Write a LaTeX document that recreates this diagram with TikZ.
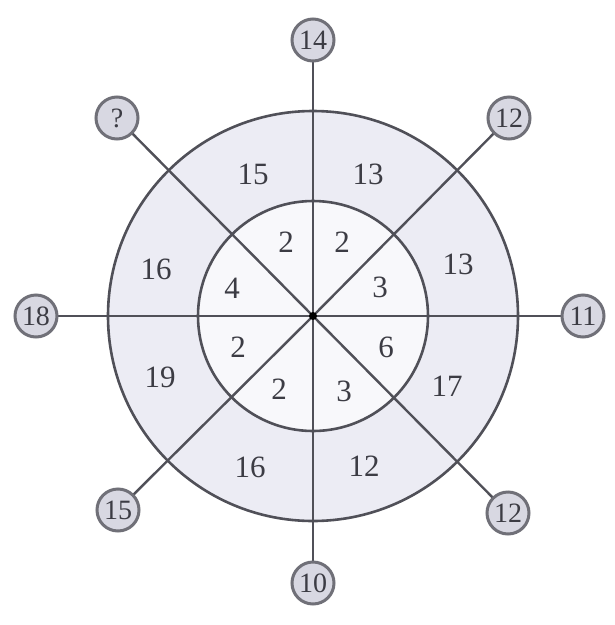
\documentclass[tikz,border=0pt]{standalone}
\usepackage{fontspec}
\setmainfont{Liberation Serif}
\definecolor{ringfill}{HTML}{ECECF4}
\definecolor{innerfill}{HTML}{F8F8FB}
\definecolor{linegray}{HTML}{505058}
\definecolor{badgefill}{HTML}{D8D8E2}
\definecolor{badgeline}{HTML}{707078}
\definecolor{numcol}{HTML}{3C3C44}
\tikzset{
  spoke/.style={draw=linegray, line width=2.4pt},
  ringline/.style={draw=linegray, line width=2.6pt},
  badge/.style={circle, draw=badgeline, line width=3pt, fill=badgefill, minimum size=42pt, inner sep=0pt, text=numcol, font=\fontsize{28}{28}\selectfont},
  num/.style={text=numcol, font=\fontsize{31}{31}\selectfont, inner sep=0pt}
}
\begin{document}
\begin{tikzpicture}[x=1pt,y=-1pt]
\useasboundingbox[fill=white] (0,0) rectangle (615,625);
\coordinate (c) at (313,316);
\fill[ringfill] (c) circle (205);
\fill[innerfill] (c) circle (115);
% badges positions
\coordinate (pT) at (313,40);
\coordinate (pTL) at (117,118);
\coordinate (pTR) at (509,118);
\coordinate (pL) at (36,316);
\coordinate (pR) at (583,316);
\coordinate (pBL) at (118,510);
\coordinate (pBR) at (508,513);
\coordinate (pB) at (313,583);
\foreach \p in {pT,pTL,pTR,pL,pR,pBL,pBR,pB}{\draw[spoke] (c) -- (\p);}
\draw[ringline] (c) circle (205);
\draw[ringline] (c) circle (115);
\fill[black] (c) circle (4);
% outer ring numbers
\node[num] (o1) at (253,174) {15};
\node[num] (o2) at (368,174) {13};
\node[num] (o3) at (156,269) {16};
\node[num] (o4) at (458,264) {13};
\node[num] (o5) at (160,377) {19};
\node[num] (o6) at (447,386) {17};
\node[num] (o7) at (250,467) {16};
\node[num] (o8) at (364,466) {12};
% inner numbers
\node[num] (i1) at (286,242) {2};
\node[num] (i2) at (342,242) {2};
\node[num] (i3) at (232,288) {4};
\node[num] (i4) at (380,287) {3};
\node[num] (i5) at (238,347) {2};
\node[num] (i6) at (386,347) {6};
\node[num] (i7) at (279,389) {2};
\node[num] (i8) at (344,391) {3};
% badges
\node[badge] (bT) at (pT) {14};
\node[badge] (bTL) at (pTL) {?};
\node[badge] (bTR) at (pTR) {12};
\node[badge] (bL) at (pL) {18};
\node[badge] (bR) at (pR) {11};
\node[badge] (bBL) at (pBL) {15};
\node[badge] (bBR) at (pBR) {12};
\node[badge] (bB) at (pB) {10};
\end{tikzpicture}
\end{document}
